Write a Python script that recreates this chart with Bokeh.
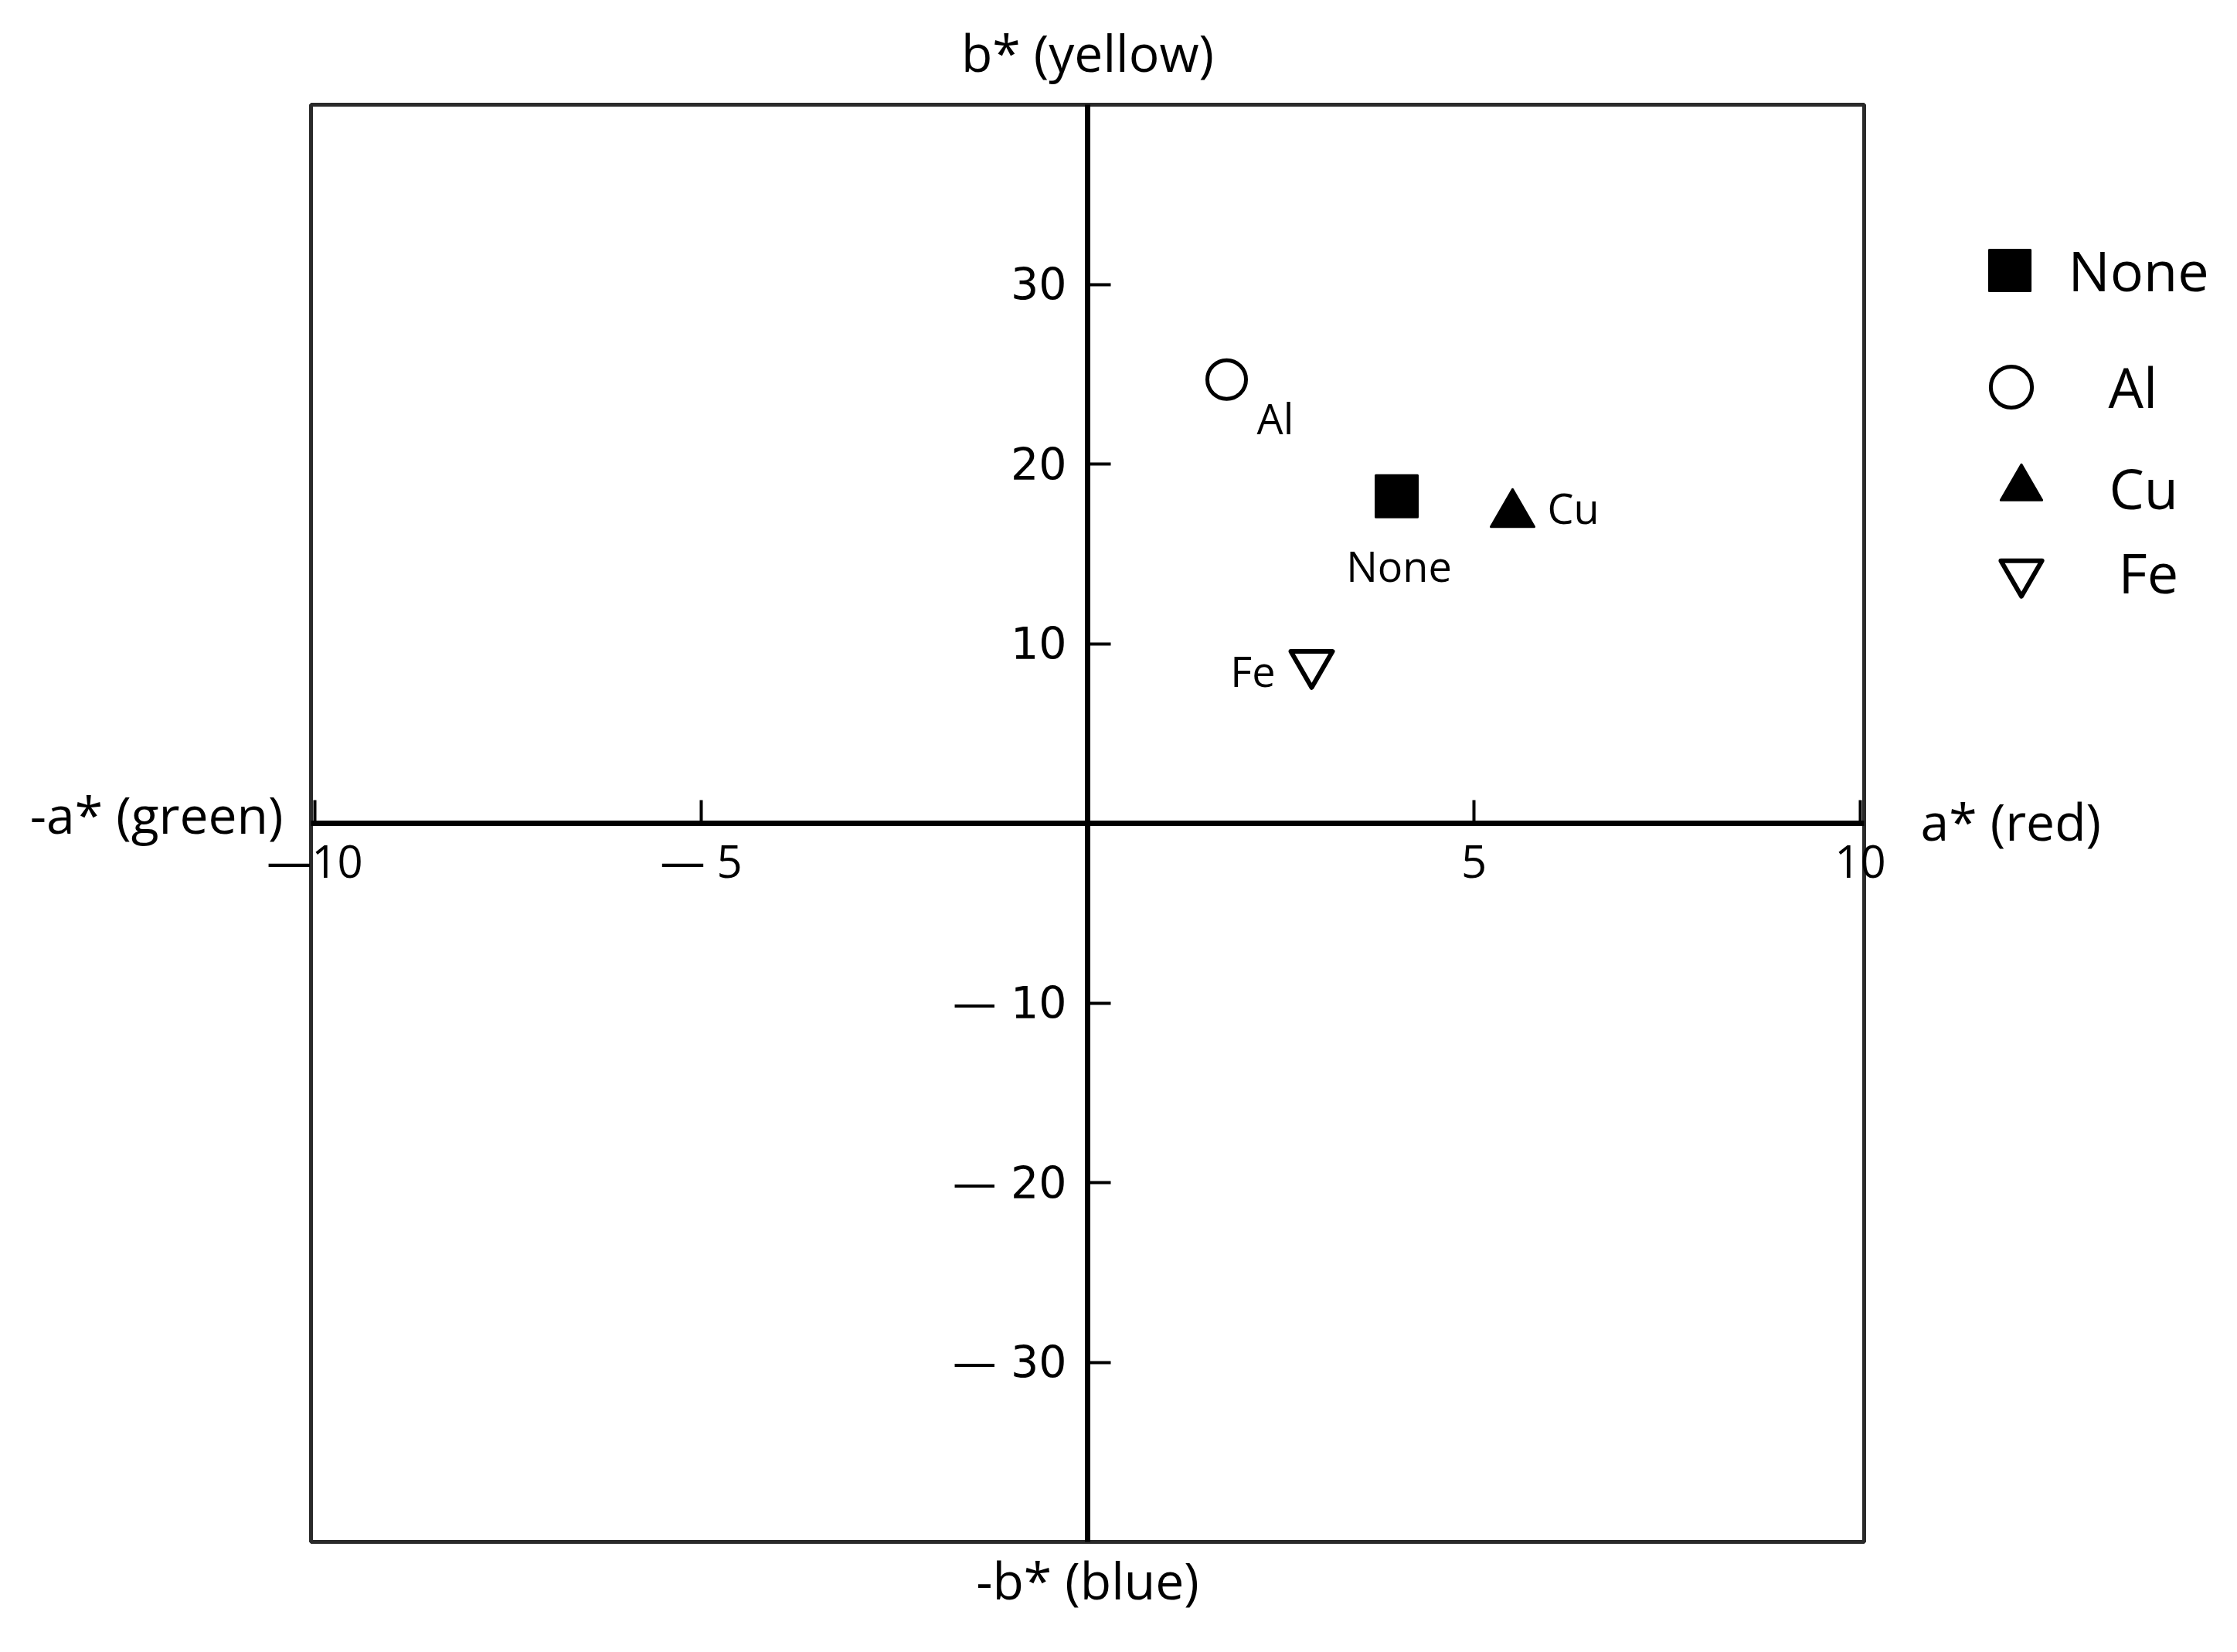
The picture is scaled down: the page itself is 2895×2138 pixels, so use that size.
from bokeh.plotting import figure
from bokeh.models import (FixedTicker, Label, Range1d, ColumnDataSource, BoxAnnotation,
                          Legend, LegendItem)
from bokeh.embed import file_html
from bokeh.resources import INLINE
from bokeh.core.properties import value

# ---------------- data ----------------
samples = ["None", "Al", "Cu", "Fe"]
a_star = [4.0, 1.8, 5.5, 2.9]
b_star = [18.2, 24.7, 17.2, 8.9]

x_ticks = [-10, -5, 5, 10]
x_tick_labels = ["\u201410", "\u2014 5", "5", "10"]
y_ticks = [-30, -20, -10, 10, 20, 30]
y_tick_labels = ["\u2014 30", "\u2014 20", "\u2014 10", "10", "20", "30"]

title_top = "b* (yellow)"
title_bottom = "-b* (blue)"
title_left = "-a* (green)"
title_right = "a* (red)"

# plotted box (data extent of the a*/b* diagram)
a_lim = (-10.05, 10.05)
b_lim = (-40.0, 40.0)

# ---------------- layout / styles ----------------
W, H = 2880, 2130
PX_PER_A = 100.0      # screen px per a* unit
PX_PER_B = 23.25      # screen px per b* unit
ORIGIN_X, ORIGIN_Y = 1407, 1065   # screen position of (0, 0)

marker_style = {
    "None": dict(marker="square", fill_color="black", line_color="black", line_width=3, size=54),
    "Al": dict(marker="circle", fill_color="white", line_color="black", line_width=5, size=50),
    "Cu": dict(marker="triangle", fill_color="black", line_color="black", line_width=3, size=56),
    "Fe": dict(marker="inverted_triangle", fill_color="white", line_color="black", line_width=6, size=54),
}
label_style = {
    "None": dict(x_offset=3, y_offset=90, text_align="center"),
    "Al": dict(x_offset=39, y_offset=50, text_align="left"),
    "Cu": dict(x_offset=45, y_offset=-9, text_align="left"),
    "Fe": dict(x_offset=-47, y_offset=9, text_align="right"),
}
# legend entries: screen centre of the key glyph and start of its label
legend_style = {
    "None": dict(cx=2600, cy=349, label_x=2677),
    "Al": dict(cx=2602, cy=500, label_x=2729),
    "Cu": dict(cx=2615, cy=631, label_x=2729),
    "Fe": dict(cx=2615, cy=740, label_x=2742),
}
LEG_BOX = 133
FONT = "Open Sans"

x_range = Range1d(-ORIGIN_X / PX_PER_A, (W - ORIGIN_X) / PX_PER_A)
y_range = Range1d(-(H - ORIGIN_Y) / PX_PER_B, ORIGIN_Y / PX_PER_B)

p = figure(
    width=W, height=H, x_range=x_range, y_range=y_range,
    output_backend="svg", toolbar_location=None,
    min_border_left=0, min_border_right=0, min_border_top=0, min_border_bottom=0,
    background_fill_color="white", border_fill_color="white",
)
p.grid.visible = False
p.outline_line_color = None

# frame box
p.add_layout(BoxAnnotation(left=a_lim[0], right=a_lim[1], bottom=b_lim[0], top=b_lim[1],
                           fill_alpha=0, line_color="#2a2a2a", line_alpha=1.0, line_width=5,
                           level="underlay"))

# axes through the origin
p.xaxis.fixed_location = 0
p.yaxis.fixed_location = 0
p.xaxis.bounds = a_lim
p.yaxis.bounds = b_lim
p.xaxis.ticker = FixedTicker(ticks=x_ticks)
p.yaxis.ticker = FixedTicker(ticks=y_ticks)
p.xaxis.major_label_overrides = {t: s for t, s in zip(x_ticks, x_tick_labels)}
p.yaxis.major_label_overrides = {t: s for t, s in zip(y_ticks, y_tick_labels)}
for ax in (p.xaxis, p.yaxis):
    ax.axis_line_width = 7
    ax.axis_line_color = "black"
    ax.major_tick_line_width = 4
    ax.major_tick_line_color = "black"
    ax.major_tick_in = 30
    ax.major_tick_out = 0
    ax.minor_tick_line_color = None
    ax.major_label_text_color = "black"
p.xaxis.major_label_text_font = FONT
p.xaxis.major_label_text_font_size = "58px"
p.xaxis.major_label_standoff = 8
p.yaxis.major_label_text_font = "DejaVu Sans"
p.yaxis.major_label_text_font_size = "57px"
p.yaxis.major_label_standoff = 27

# points
for name, a, b in zip(samples, a_star, b_star):
    st = marker_style[name]
    r = p.scatter([a], [b], marker=st["marker"], size=st["size"], fill_color=st["fill_color"],
                  line_color=st["line_color"], line_width=st["line_width"], line_join="round")
    ls = label_style[name]
    src = ColumnDataSource(dict(x=[a], y=[b], t=[name]))
    p.text(x="x", y="y", text="t", source=src, x_offset=ls["x_offset"], y_offset=ls["y_offset"],
           text_align=ls["text_align"], text_baseline="alphabetic",
           text_font=value(FONT), text_font_size="54px", text_color="black")

    lg = legend_style[name]
    leg = Legend(
        items=[LegendItem(label=name, renderers=[r])],
        location=(lg["cx"] - LEG_BOX / 2, H - (lg["cy"] + LEG_BOX / 2)),
        glyph_width=LEG_BOX, glyph_height=LEG_BOX, spacing=0, padding=0, margin=0,
        label_standoff=int(round(lg["label_x"] - lg["cx"] - LEG_BOX / 2)),
        label_text_font=FONT, label_text_font_size="72px", label_text_color="black",
        border_line_alpha=0, background_fill_alpha=0,
    )
    p.add_layout(leg, "center")

# axis titles
for txt, x, y, align in [
    (title_top, 0.0, 42.95, "center"),
    (title_bottom, 0.0, -42.1, "center"),
    (title_left, -10.41, 0.52, "right"),
    (title_right, 10.78, 0.17, "left"),
]:
    p.add_layout(Label(x=x, y=y, text=txt, text_align=align, text_baseline="alphabetic",
                       text_font=FONT, text_font_size="66px", text_color="black"))

open("out.html", "w").write(file_html(p, INLINE))
